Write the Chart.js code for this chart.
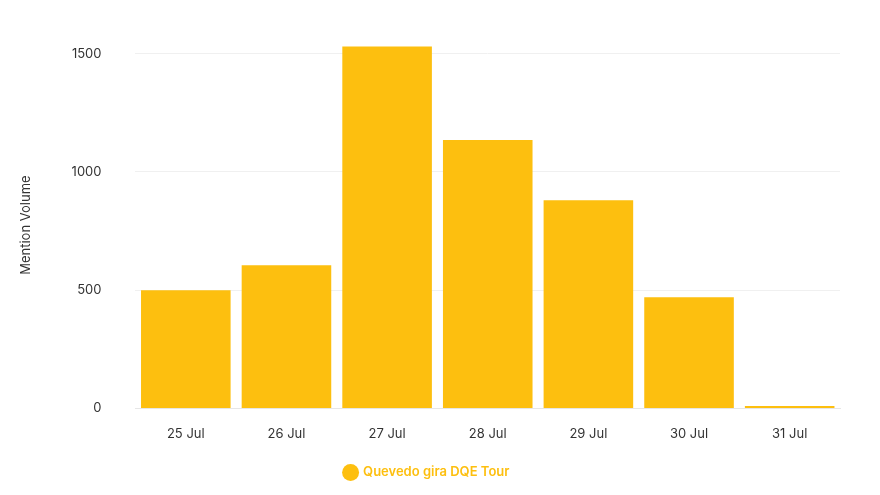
<!DOCTYPE html>
<html>
<head>
<meta charset="utf-8">
<script src="https://cdn.jsdelivr.net/npm/chart.js@4"></script>
<style>
  body { margin: 0; background: #fff; }
  #wrap { width: 880px; height: 495px; }
</style>
</head>
<body>
<div id="wrap"><canvas id="chart"></canvas></div>
<script>
const labels = ["25 Jul", "26 Jul", "27 Jul", "28 Jul", "29 Jul", "30 Jul", "31 Jul"];
const mentions = [500, 605, 1530, 1135, 880, 470, 10];
const yTicks = [0, 500, 1000, 1500];

const barColor = "#FDBF0F";

const config = {
  type: "bar",
  data: {
    labels: labels,
    datasets: [
      {
        label: "Quevedo gira DQE Tour",
        data: mentions,
        backgroundColor: barColor,
        borderWidth: 0,
        barPercentage: 0.89,
        categoryPercentage: 1,
      },
    ],
  },
  options: {
    responsive: true,
    maintainAspectRatio: false,
    animation: false,
    layout: { padding: { left: 14, right: 40, top: 16, bottom: 6 } },
    plugins: {
      legend: {
        position: "bottom",
        labels: {
          usePointStyle: true,
          pointStyle: "circle",
          boxWidth: 12,
          boxHeight: 12,
          color: barColor,
          padding: 14,
          font: { family: "Inter", size: 13, weight: "600" },
        },
      },
      tooltip: { enabled: false },
    },
    scales: {
      x: {
        grid: { display: false },
        border: { color: "#e6e6e6" },
        ticks: { color: "#333", font: { family: "Inter", size: 13 }, padding: 10 },
      },
      y: {
        min: 0,
        max: 1550,
        afterBuildTicks: (axis) => {
          axis.ticks = yTicks.map((v) => ({ value: v }));
        },
        grid: { color: "#f0f0f0", drawTicks: false },
        border: { display: false },
        ticks: {
          color: "#333",
          font: { family: "Inter", size: 13 },
          padding: 34,
          callback: (v) => String(v),
        },
        title: {
          display: true,
          text: "Mention Volume",
          color: "#333",
          font: { family: "Inter", size: 13 },
        },
      },
    },
  },
};

new Chart(document.querySelector("#chart"), config);
</script>
</body>
</html>
